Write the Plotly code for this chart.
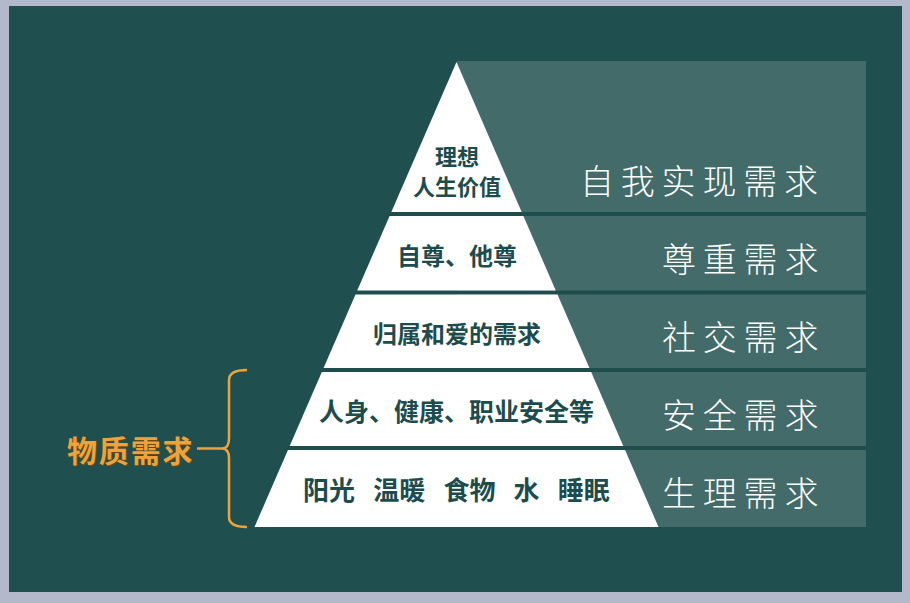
import plotly.graph_objects as go

# ---- data ----
need_labels = ["自我实现需求", "尊重需求", "社交需求", "安全需求", "生理需求"]
need_examples = ["理想<br>人生价值", "自尊、他尊", "归属和爱的需求", "人身、健康、职业安全等",
                 "阳光\u2002\u2009温暖\u2002\u2009食物\u2002\u2009水\u2002\u2009睡眠"]
group_label = "物质需求"
group_levels = [3, 4]  # indices of the levels covered by the bracket

# ---- geometry (pixel space of the 910x603 canvas) ----
W, H = 910, 603
apex_x, apex_y = 456.5, 62
base_y, base_half = 527, 202
bounds = [62, 214, 292.5, 370, 448, 527]
gap = 4
rect_x0, rect_x1 = 457, 866
label_right = 820
line_step = 30

BOARD = "#1f504f"
PANEL = "#426b69"
SEP = "#1f4d4d"
DARK_TXT = "#1c4c4d"
ORANGE = "#f0a23a"


def half_width(y):
    return base_half * (y - apex_y) / (base_y - apex_y)


fig = go.Figure()

shapes = [
    dict(type="rect", x0=9, x1=902, y0=6, y1=592, fillcolor=BOARD, line_width=0, layer="below"),
    dict(type="rect", x0=rect_x0, x1=rect_x1, y0=61, y1=base_y, fillcolor=PANEL, line_width=0, layer="below"),
]
for b in bounds[1:-1]:
    shapes.append(dict(type="line", x0=apex_x - half_width(b) - 2, x1=rect_x1, y0=b, y1=b,
                       line=dict(color=SEP, width=gap), layer="below"))

for i in range(len(need_labels)):
    yt = bounds[i] if i == 0 else bounds[i] + gap / 2
    yb = bounds[i + 1] - (gap / 2 if i < len(need_labels) - 1 else 0)
    xs = [apex_x - half_width(yt), apex_x + half_width(yt), apex_x + half_width(yb), apex_x - half_width(yb), apex_x - half_width(yt)]
    ys = [yt, yt, yb, yb, yt]
    fig.add_trace(go.Scatter(x=xs, y=ys, mode="lines", fill="toself", fillcolor="white",
                             line=dict(width=0, color="white"), hoverinfo="skip", showlegend=False))

annotations = []
inner_sizes = [22, 24, 24, 25, 26]
for i, (lab, ex) in enumerate(zip(need_labels, need_examples)):
    top, bot = bounds[i], bounds[i + 1]
    if i == 0:
        yc_in = top + 0.71 * (bot - top)
        yc_out = top + 0.77 * (bot - top)
    else:
        yc_in = (top + bot) / 2 + 1
        yc_out = (top + bot) / 2 + 4
    lines = ex.split("<br>")
    n = len(lines)
    for k, ln in enumerate(lines):
        yk = yc_in + (k - (n - 1) / 2) * line_step
        annotations.append(dict(x=apex_x, y=yk, xref="x", yref="y", text="<b>" + ln + "</b>", showarrow=False,
                                font=dict(family="Noto Sans CJK SC", size=inner_sizes[i], color=DARK_TXT),
                                xanchor="center", yanchor="middle", borderpad=0))
    spaced = "\u2009".join(list(lab))
    annotations.append(dict(x=label_right, y=yc_out, xref="x", yref="y", text=spaced, showarrow=False,
                            font=dict(family="Noto Sans CJK SC", size=34, color="white", weight=300),
                            xanchor="right", yanchor="middle"))

# bracket for the material needs group
g_top = bounds[group_levels[0]]
g_bot = bounds[group_levels[-1] + 1]
g_mid = (g_top + g_bot) / 2
bx = 229
path = (f"M 247 {g_top} Q {bx} {g_top} {bx} {g_top + 10} L {bx} {g_mid - 10} "
        f"Q {bx} {g_mid} {bx - 7} {g_mid} Q {bx} {g_mid} {bx} {g_mid + 10} "
        f"L {bx} {g_bot - 10} Q {bx} {g_bot} 247 {g_bot}")
shapes.append(dict(type="path", path=path, line=dict(color=ORANGE, width=2.5), layer="above"))
shapes.append(dict(type="line", x0=197, x1=bx - 7, y0=g_mid, y1=g_mid, line=dict(color=ORANGE, width=2.5), layer="above"))
annotations.append(dict(x=195, y=g_mid, xref="x", yref="y", text="<b>" + "\u200a".join(group_label) + "</b>",
                        showarrow=False, xanchor="right", yanchor="middle",
                        font=dict(family="Noto Sans CJK SC", size=30, color=ORANGE,
                                  shadow="1px 1px 1px #6b4a1a")))

fig.update_layout(
    width=W, height=H, margin=dict(l=0, r=0, t=0, b=0),
    paper_bgcolor="#b3b8cb", plot_bgcolor="rgba(0,0,0,0)",
    xaxis=dict(range=[0, W], visible=False, fixedrange=True),
    yaxis=dict(range=[H, 0], visible=False, fixedrange=True),
    shapes=shapes, annotations=annotations, showlegend=False,
)

fig.write_html("out.html", config={"displayModeBar": False},
               post_script="document.body.style.margin='0';document.body.style.overflow='hidden';")
